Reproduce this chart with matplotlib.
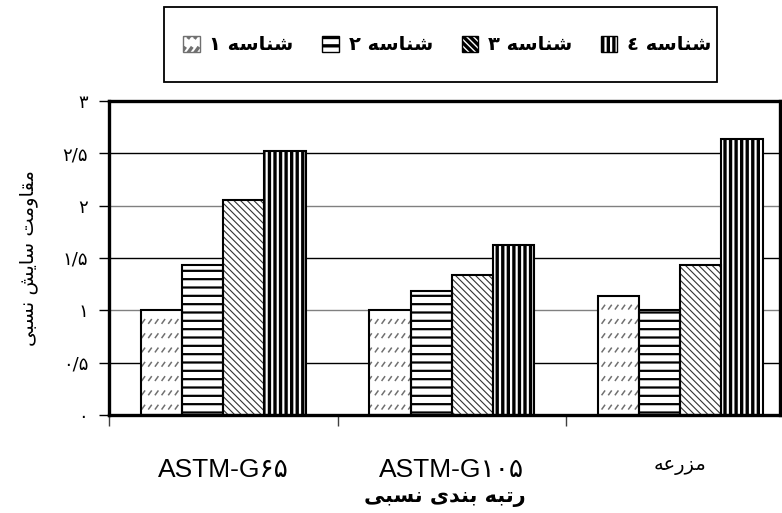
import matplotlib
matplotlib.use('Agg')
import matplotlib.pyplot as plt
import matplotlib.hatch as mhatch
from matplotlib.path import Path
from matplotlib.patches import Patch, Rectangle
import numpy as np

# ---------------- data ----------------
categories = ['ASTM-G۶۵', 'ASTM-G۱۰۵', 'مزرعه']
series_names = ['شناسه ۱', 'شناسه ۲', 'شناسه ۳', 'شناسه ٤']
values_s1 = [1.00, 1.00, 1.14]
values_s2 = [1.43, 1.18, 1.00]
values_s3 = [2.05, 1.34, 1.43]
values_s4 = [2.52, 1.62, 2.64]
y_ticks = [0, 0.5, 1, 1.5, 2, 2.5, 3]
y_tick_labels = ['۰', '۰/۵', '۱', '۱/۵', '۲', '۲/۵', '۳']
x_title = 'رتبه بندی نسبی'
y_title = 'مقاومت سایش نسبی'

# ---------------- simple Arabic/Persian shaping ----------------
FORMS = {
    'ا': ('\uFE8D', '\uFE8E', None, None),
    'ب': ('\uFE8F', '\uFE90', '\uFE91', '\uFE92'),
    'ت': ('\uFE95', '\uFE96', '\uFE97', '\uFE98'),
    'د': ('\uFEA9', '\uFEAA', None, None),
    'ر': ('\uFEAD', '\uFEAE', None, None),
    'ز': ('\uFEAF', '\uFEB0', None, None),
    'س': ('\uFEB1', '\uFEB2', '\uFEB3', '\uFEB4'),
    'ش': ('\uFEB5', '\uFEB6', '\uFEB7', '\uFEB8'),
    'ع': ('\uFEC9', '\uFECA', '\uFECB', '\uFECC'),
    'ق': ('\uFED5', '\uFED6', '\uFED7', '\uFED8'),
    'م': ('\uFEE1', '\uFEE2', '\uFEE3', '\uFEE4'),
    'ن': ('\uFEE5', '\uFEE6', '\uFEE7', '\uFEE8'),
    'ه': ('\uFEE9', '\uFEEA', '\uFEEB', '\uFEEC'),
    'و': ('\uFEED', '\uFEEE', None, None),
    'ی': ('\uFBFC', '\uFBFD', '\uFBFE', '\uFBFF'),
}
DIGITS = set('۰۱۲۳۴۵۶۷۸۹٠١٢٣٤٥٦٧٨٩0123456789/')


def _dual(c):
    return c in FORMS and FORMS[c][2] is not None


def shape(s):
    out = []
    for i, c in enumerate(s):
        if c not in FORMS:
            out.append(c)
            continue
        p = i > 0 and _dual(s[i - 1])
        n = i < len(s) - 1 and _dual(c) and s[i + 1] in FORMS
        iso, fin, ini, med = FORMS[c]
        out.append(med if (p and n) else fin if p else ini if n else iso)
    return ''.join(out)


def rtl(s):
    """shape and put into visual (left-to-right) order"""
    r = shape(s)[::-1]
    res, run = [], []
    for c in r:
        if c in DIGITS:
            run.append(c)
        else:
            if run:
                res.append(''.join(run[::-1]))
                run = []
            res.append(c)
    if run:
        res.append(''.join(run[::-1]))
    return ''.join(res)


def label(s):
    return rtl(s) if any(c in FORMS for c in s) and not s.startswith('ASTM') else s


# ---------------- custom dashed-diagonal hatch (uses '*') ----------------
class DashedDiag(mhatch.HatchPatternBase):
    def __init__(self, hatch, density):
        n = hatch.count('*')
        self.rows = 7 * n
        self.cols = 15 * n
        self.num_vertices = self.rows * self.cols * 2 if n else 0

    def set_vertices_and_codes(self, vertices, codes):
        k = 0
        for i in range(self.rows):
            for j in range(self.cols):
                x0 = (j + 0.5) / self.cols
                y0 = (i + 0.5) / self.rows
                vertices[k] = (x0 - 0.013, y0 - 0.018)
                vertices[k + 1] = (x0 + 0.013, y0 + 0.018)
                codes[k] = Path.MOVETO
                codes[k + 1] = Path.LINETO
                k += 2


mhatch._hatch_types = [t for t in mhatch._hatch_types if t.__name__ != 'Stars'] + [DashedDiag]

plt.rcParams['font.family'] = ['DejaVu Sans']

fig = plt.figure(figsize=(7.82, 5.13), dpi=100)
W, H = 782, 513
ax = fig.add_axes([109 / W, (H - 415) / H, 671 / W, 314 / H])

x = np.arange(len(categories))
bw = 0.18
offsets = [-1.5 * bw, -0.5 * bw, 0.5 * bw, 1.5 * bw]
series = [values_s1, values_s2, values_s3, values_s4]
styles = [
    dict(hatch='*', hc='#707070', hlw=1.1),
    dict(hatch='--', hc='black', hlw=1.6),
    dict(hatch='\\\\\\\\\\', hc='#333333', hlw=0.8),
    dict(hatch='|||', hc='black', hlw=2.4),
]

for vals, off, st in zip(series, offsets, styles):
    plt.rcParams['hatch.linewidth'] = st['hlw']
    bars = ax.bar(x + off, vals, bw, color='white', edgecolor=st['hc'],
                  linewidth=0, hatch=st['hatch'], zorder=2)
    for b in bars:
        if hasattr(b, 'set_hatch_linewidth'):
            b.set_hatch_linewidth(st['hlw'])
    ax.bar(x + off, vals, bw, fill=False, edgecolor='black', linewidth=1.5, zorder=3)

# grid
for i, yv in enumerate(y_ticks[1:-1]):
    ax.axhline(yv, color='black' if (yv * 2) % 2 == 1 else '#808080', lw=1.0, zorder=1)

ax.set_ylim(0, 3)
ax.set_xlim(-0.5, -0.5 + 671 / 228.5)
ax.set_yticks(y_ticks)
ax.set_yticklabels(y_tick_labels, fontsize=13)
ax.tick_params(axis='y', length=7, width=1, pad=8, direction='out')
for t, yv in zip(ax.yaxis.get_major_ticks(), y_ticks):
    t.tick1line.set_color('black' if (yv * 2) % 2 == 1 else '#808080')

ax.set_xticks(x)
ax.set_xticklabels([label(c) for c in categories],
                   family=['Liberation Sans', 'DejaVu Sans'], fontsize=19)
ax.tick_params(axis='x', which='major', length=0, pad=31)
ax.get_xticklabels()[2].set_fontsize(14)
ax.set_xticks([-0.5, 0.5, 1.5], minor=True)
ax.tick_params(axis='x', which='minor', length=8, width=1, color='#404040')

for s in ax.spines.values():
    s.set_linewidth(2.4)
    s.set_color('black')

ax.set_xlabel(rtl(x_title), fontsize=15, fontweight='bold', va='center')
ax.xaxis.set_label_coords(0.5, (415 - 497) / 314)
ax.set_ylabel(rtl(y_title), fontsize=14, va='center')
ax.yaxis.set_label_coords((28 - 109) / 671, 0.5)

# legend
handles = [Patch(facecolor='white', edgecolor=st['hc'] if i == 0 else 'black',
                 hatch=st['hatch'], linewidth=1) for i, st in enumerate(styles)]
fig.patches.append(Rectangle((164 / W, (H - 82) / H), 553 / W, 75 / H,
                             transform=fig.transFigure, fill=False,
                             edgecolor='black', linewidth=1.3))
leg = fig.legend(handles, [rtl(s) for s in series_names], ncol=4,
                 loc='center left', bbox_to_anchor=(183 / W, (H - 45) / H),
                 frameon=False, borderpad=0, borderaxespad=0,
                 handlelength=0.85, handleheight=0.85, handletextpad=0.5,
                 columnspacing=1.48,
                 prop=dict(family='DejaVu Sans', weight='bold', size=14))

fig.savefig('out.png', dpi=100)
